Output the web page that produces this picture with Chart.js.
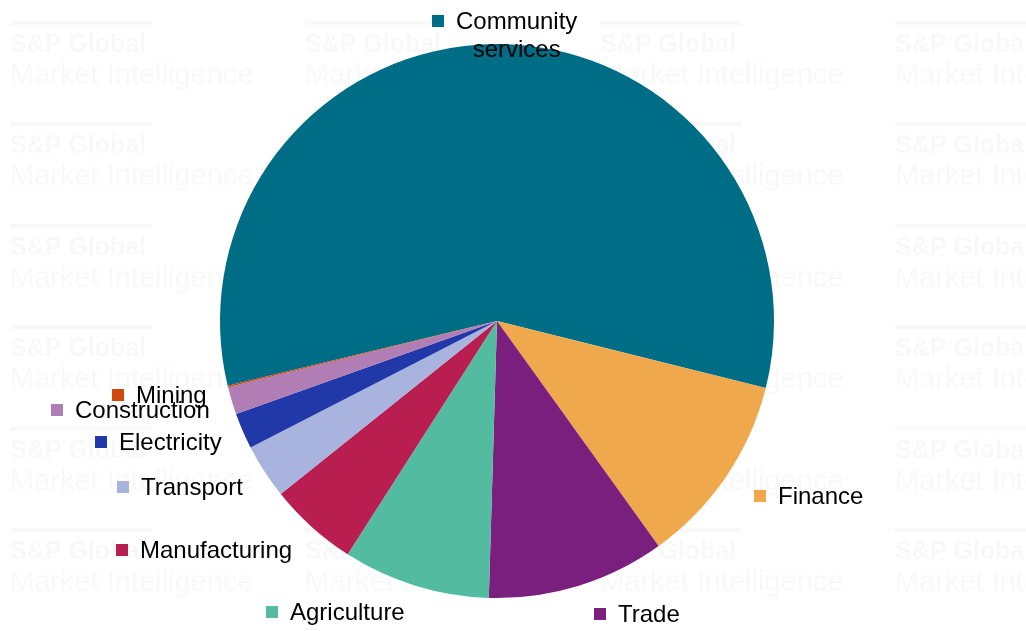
<!DOCTYPE html>
<html>
<head>
<meta charset="utf-8">
<script src="https://cdn.jsdelivr.net/npm/chart.js@4/dist/chart.umd.min.js"></script>
<style>
  html, body { margin: 0; padding: 0; background: #ffffff; }
  #wrap { width: 1026px; height: 631px; position: relative; }
</style>
</head>
<body>
<div id="wrap"><canvas id="c" width="1026" height="631"></canvas></div>
<script>
// Sector shares (%) of output, clockwise from the community services slice
const categories = ['Community services', 'Finance', 'Trade', 'Agriculture', 'Manufacturing',
                    'Transport', 'Electricity', 'Construction', 'Mining'];
const shares = [57.7, 11.2, 10.4, 8.6, 5.2, 3.2, 2.1, 1.6, 0.1];
const sliceColors = ['#006d87', '#f0a84c', '#7a1f7e', '#53bba0', '#b81f50',
                     '#a8b4de', '#2038a8', '#b07eb4', '#d04a10'];

// Label anchor spots (left edge of the swatch, vertical centre of the first line)
const labelSpots = [
  { x: 432, y: 21, lines: ['Community', 'services'] },
  { x: 754, y: 496 },
  { x: 594, y: 614 },
  { x: 266, y: 612 },
  { x: 116, y: 550 },
  { x: 117, y: 487 },
  { x: 95,  y: 442 },
  { x: 51,  y: 410 },
  { x: 112, y: 395 }
];

const FONT = '24px "Liberation Sans", Arial, sans-serif';

// Faint tiled brand mark behind the pie
const watermark = {
  id: 'watermark',
  beforeDraw(chart) {
    const ctx = chart.ctx;
    ctx.save();
    ctx.fillStyle = 'rgba(0,0,0,0.028)';
    ctx.textBaseline = 'alphabetic';
    ctx.textAlign = 'left';
    for (let row = 0; row < 6; row++) {
      for (let col = 0; col < 4; col++) {
        const x = 10 + col * 295;
        const y = 52 + row * 101.4;
        ctx.fillRect(x, y - 31, 142, 4);
        ctx.font = 'bold 25px "Liberation Sans", Arial, sans-serif';
        ctx.fillText('S&P Global', x, y);
        ctx.font = '29px "Liberation Sans", Arial, sans-serif';
        ctx.fillText('Market Intelligence', x, y + 32);
      }
    }
    ctx.restore();
  }
};

const sliceLabels = {
  id: 'sliceLabels',
  afterDraw(chart) {
    const ctx = chart.ctx;
    const ds = chart.data.datasets[0];
    ctx.save();
    ctx.font = FONT;
    ctx.textBaseline = 'middle';
    chart.data.labels.forEach((label, i) => {
      const spot = labelSpots[i];
      ctx.fillStyle = ds.backgroundColor[i];
      ctx.fillRect(spot.x, spot.y - 6, 12, 12);
      ctx.fillStyle = '#000000';
      const lines = spot.lines || [label];
      ctx.textAlign = 'left';
      ctx.fillText(lines[0], spot.x + 24, spot.y + 1);
      if (lines.length > 1) {
        const w0 = ctx.measureText(lines[0]).width;
        ctx.textAlign = 'center';
        ctx.fillText(lines[1], spot.x + 24 + w0 / 2, spot.y + 29);
      }
    });
    ctx.restore();
  }
};

new Chart(document.getElementById('c'), {
  type: 'pie',
  data: {
    labels: categories,
    datasets: [{
      data: shares,
      backgroundColor: sliceColors,
      borderWidth: 0
    }]
  },
  options: {
    responsive: false,
    animation: false,
    rotation: -103.5,
    layout: { padding: { top: 44, bottom: 33, left: 0, right: 32 } },
    plugins: {
      legend: { display: false },
      tooltip: { enabled: false }
    }
  },
  plugins: [watermark, sliceLabels]
});
</script>
</body>
</html>
